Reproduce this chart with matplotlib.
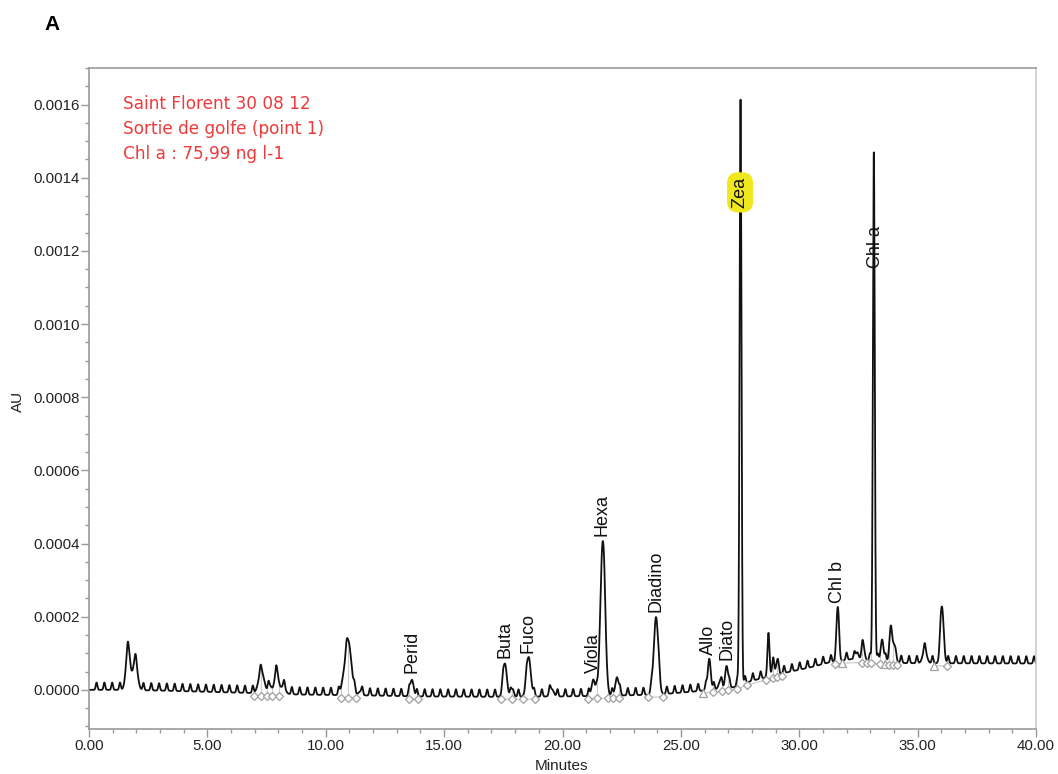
import numpy as np
import matplotlib.pyplot as plt
from matplotlib.ticker import MultipleLocator, FormatStrFormatter

# baseline drift of the run (minutes, AU)
base_rt = [0, 1.3, 3, 6.5, 9, 11.5, 14, 17, 20, 22, 24, 25.5, 27.3, 28, 29.5,
           30.5, 31.2, 32.2, 33, 34.5, 40]
base_au = [0.0, 0.0, -0.000002, -0.000008, -0.000013, -0.000015, -0.000018,
           -0.000019, -0.000018, -0.000016, -0.000013, -0.000005, 0.000008,
           0.000025, 0.000048, 0.000062, 0.000074, 0.000084, 0.00008,
           0.000073, 0.000072]

# detected peaks: retention time, height above baseline, width (sigma)
peak_rt = [1.65, 1.95, 7.28, 7.65, 7.92, 8.2, 10.72, 10.95, 11.45, 13.64,
           17.57, 17.9, 18.57, 19.55, 21.3, 21.7, 22.3, 23.95, 26.2, 26.65,
           26.93, 27.52, 28.7, 28.9, 29.1, 31.62, 32.45, 32.7, 33.15, 33.5,
           33.87, 34.05, 35.3, 36.03]
peak_height = [0.000112, 0.00008, 0.00006, 0.00002, 0.000058, 0.00002,
               0.00002, 0.000148, 0.00001, 0.000045, 0.00009, 0.00002,
               0.000108, 0.00002, 0.000045, 0.00042, 0.00005, 0.000212,
               0.000085, 0.00002, 0.00006, 0.0016, 0.0001, 0.00005, 0.00004,
               0.00014, 0.00002, 0.00004, 0.00139, 0.00006, 0.0001, 0.00004,
               0.000035, 0.000152]
peak_sigma = [0.09, 0.1, 0.12, 0.07, 0.09, 0.1, 0.08, 0.13, 0.07, 0.07,
              0.08, 0.05, 0.09, 0.08, 0.07, 0.1, 0.07, 0.095, 0.06, 0.06,
              0.06, 0.04, 0.045, 0.045, 0.04, 0.055, 0.06, 0.06, 0.04, 0.06,
              0.06, 0.05, 0.09, 0.07]

# pump pulsation spikes on the baseline
pulse_rt = [0.32, 0.65, 0.98, 1.31, 1.64, 1.97, 2.30, 2.63, 2.96, 3.29,
            3.62, 3.95, 4.28, 4.61, 4.94, 5.27, 5.60, 5.93, 6.26, 6.59,
            6.92, 7.25, 7.58, 7.91, 8.24, 8.57, 8.90, 9.23, 9.56, 9.89,
            10.22, 10.55, 10.88, 11.21, 11.54, 11.87, 12.20, 12.53, 12.86, 13.19,
            13.52, 13.85, 14.18, 14.51, 14.84, 15.17, 15.50, 15.83, 16.16, 16.49,
            16.82, 17.15, 17.48, 17.81, 18.14, 18.47, 18.80, 19.13, 19.46, 19.79,
            20.12, 20.45, 20.78, 21.11, 21.44, 21.77, 22.10, 22.43, 22.76, 23.09,
            23.42, 23.75, 24.08, 24.41, 24.74, 25.07, 25.40, 25.73, 26.06, 26.39,
            26.72, 27.05, 27.38, 27.71, 28.04, 28.37, 28.70, 29.03, 29.36, 29.69,
            30.02, 30.35, 30.68, 31.01, 31.34, 31.67, 32.00, 32.33, 32.66, 32.99,
            33.32, 33.65, 33.98, 34.31, 34.64, 34.97, 35.30, 35.63, 35.96, 36.29,
            36.62, 36.95, 37.28, 37.61, 37.94, 38.27, 38.60, 38.93, 39.26, 39.59,
            39.92]
pulse_height = 0.00002
pulse_sigma = 0.035

# integration marks (peak start / end)
diamond_rt = [6.97, 7.27, 7.52, 7.73, 8.03, 10.64, 10.94, 11.28, 13.5, 13.9,
              17.39, 17.85, 18.33, 18.84, 21.08, 21.45, 21.93, 22.15, 22.39,
              23.6, 24.25, 26.36, 26.74, 26.99, 27.37, 27.8, 28.6, 28.9,
              29.06, 29.27, 31.5, 32.65, 32.86, 33.03, 33.41, 33.79, 33.96,
              34.13, 36.24]
triangle_rt = [25.95, 31.8, 33.62, 35.69]

# pigment labels
label_names = ['Perid', 'Buta', 'Fuco', 'Viola', 'Hexa', 'Diadino', 'Allo',
               'Diato', 'Chl b']
label_rt = [13.64, 17.57, 18.55, 21.3, 21.67, 23.95, 26.15, 26.94, 31.6]
label_au = [0.000046, 0.000087, 0.000101, 0.000046, 0.00042, 0.000213,
            0.000095, 0.000082, 0.000237]
zea_rt, zea_au = 27.5, 0.00136
chla_rt, chla_au = 33.2, 0.00121

info_lines = ['Saint Florent 30 08 12', 'Sortie de golfe (point 1)',
              'Chl a : 75,99 ng l-1']

t = np.linspace(0, 40, 8001)
trace = np.interp(t, base_rt, base_au)
for rt, h, s in zip(peak_rt, peak_height, peak_sigma):
    trace += h * np.exp(-0.5 * ((t - rt) / s) ** 2)
for rt in pulse_rt:
    trace += pulse_height * np.exp(-0.5 * ((t - rt) / pulse_sigma) ** 2)

fig = plt.figure(figsize=(10.58, 7.74), dpi=100)
ax = fig.add_axes([89 / 1058, 1 - 729 / 774, 947 / 1058, 661 / 774])

# integration baselines and drop lines
marks = sorted([(rt, 'D') for rt in diamond_rt] + [(rt, '^') for rt in triangle_rt])
mark_rt = np.array([m[0] for m in marks])
mark_au = np.interp(mark_rt, base_rt, base_au) - 0.000007
for i in range(len(mark_rt) - 1):
    if mark_rt[i + 1] - mark_rt[i] < 1.0:
        ax.plot(mark_rt[i:i + 2], mark_au[i:i + 2], color='#c8c8c8', lw=0.8)
for rt, au in zip(mark_rt, mark_au):
    ax.plot([rt, rt], [au, np.interp(rt, t, trace)], color='#cccccc', lw=0.8)

ax.plot(t, trace, color='#111111', lw=1.3)

for rt, au, (_, m) in zip(mark_rt, mark_au, marks):
    ax.plot(rt, au, marker=m, ms=4.5 if m == 'D' else 5.5, mfc='white',
            mec='#a0a0a0', mew=0.9, ls='none')

lab_font = dict(family='Liberation Sans', fontsize=13, color='#111111')
for name, rt, au in zip(label_names, label_rt, label_au):
    ax.text(rt, au, name, rotation=90, ha='center', va='bottom', **lab_font)
ax.text(zea_rt, zea_au, 'Zea', rotation=90, ha='center', va='center',
        bbox=dict(boxstyle='round,pad=0.25,rounding_size=0.6',
                  fc='#f0e81f', ec='none'), **lab_font)
ax.text(chla_rt, chla_au, 'Chl a', rotation=90, ha='center', va='center',
        **lab_font)

for i, line in enumerate(info_lines):
    fig.text(123 / 1058, 1 - (104 + 25 * i) / 774, line, color='#ee3a3a',
             fontsize=12.2, family='DejaVu Sans', va='center', ha='left')

ax.set_xlim(0, 40)
ax.set_ylim(-0.000107, 0.0017)
ax.xaxis.set_major_locator(MultipleLocator(5))
ax.xaxis.set_minor_locator(MultipleLocator(1))
ax.xaxis.set_major_formatter(FormatStrFormatter('%.2f'))
ax.yaxis.set_major_locator(MultipleLocator(0.0002))
ax.yaxis.set_minor_locator(MultipleLocator(0.00005))
ax.yaxis.set_major_formatter(FormatStrFormatter('%.4f'))

ax.tick_params(which='major', length=5.5, width=1, color='#999999',
               labelsize=10.8, labelcolor='#222222', pad=2)
ax.tick_params(which='minor', length=3, width=1, color='#999999')
ax.tick_params(axis='y', which='major', pad=0.8)
for lbl in ax.get_xticklabels() + ax.get_yticklabels():
    lbl.set_family('Liberation Sans')

for side in ['left', 'bottom', 'top']:
    ax.spines[side].set_color('#9a9a9a')
    ax.spines[side].set_linewidth(1.2)
ax.spines['right'].set_color('#cccccc')
ax.spines['right'].set_linewidth(1.2)

fig.text(18 / 1058, 1 - 401 / 774, 'AU', rotation=90, ha='center',
         va='center', family='Liberation Sans', fontsize=11, color='#222222')
fig.text(562 / 1058, 1 / 774, 'Minutes', ha='center', va='bottom',
         family='Liberation Sans', fontsize=11, color='#222222')
fig.text(44 / 1058, 1 - 25 / 774, 'A', ha='left', va='center',
         family='Liberation Sans', fontweight='bold', fontsize=15)

fig.savefig('out.png', dpi=100)
